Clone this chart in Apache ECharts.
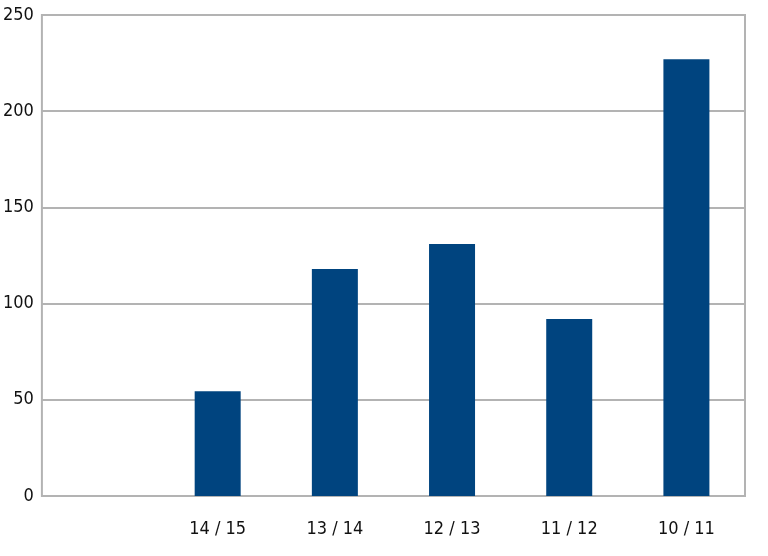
<!DOCTYPE html>
<html><head><meta charset="utf-8">
<script src="https://cdn.jsdelivr.net/npm/echarts@6/dist/echarts.min.js"></script>
<style>html,body{margin:0;padding:0;background:#fff}#c{width:768px;height:556px}</style>
</head><body><div id="c"></div>
<script>
const categories = ["", "14 / 15", "13 / 14", "12 / 13", "11 / 12", "10 / 11"];
const values = [null, 54.5, 118, 131, 92, 227];
const yTicks = [0, 50, 100, 150, 200, 250];

const font = '"DejaVu Sans Condensed", "Liberation Sans", sans-serif';
const chart = echarts.init(document.getElementById('c'), null, {renderer: 'canvas'});
chart.setOption({
  animation: false,
  grid: {left: 40, right: 23, top: 15, bottom: 60, show: true, borderColor: '#b3b3b3', borderWidth: 2},
  xAxis: {
    type: 'category', data: categories,
    axisLine: {show: true, lineStyle: {color: '#b3b3b3', width: 2}},
    axisTick: {show: false},
    axisLabel: {color: '#111', fontFamily: font, fontSize: 18, margin: 24, interval: 0}
  },
  yAxis: {
    type: 'value', min: yTicks[0], max: yTicks[yTicks.length - 1], interval: 50,
    axisLine: {show: false}, axisTick: {show: false},
    splitLine: {lineStyle: {color: '#b3b3b3', width: 2}},
    axisLabel: {color: '#111', fontFamily: font, fontSize: 18, margin: 8}
  },
  series: [{
    type: 'bar', data: values, barWidth: 46,
    itemStyle: {color: '#00447f'}
  }]
});
</script></body></html>
